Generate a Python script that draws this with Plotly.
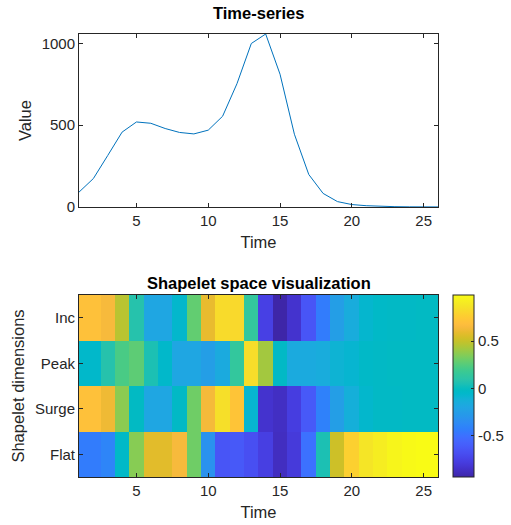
import plotly.graph_objects as go

# ---- data ----
time = list(range(1, 27))
value = [91, 174, 315, 458, 520, 512, 480, 456, 447, 470, 555, 754, 1000, 1058,
         812, 445, 199, 83, 33, 15, 8, 4, 2, 1, 1, 0.5]

dims = ["Inc", "Peak", "Surge", "Flat"]
inc = [0.70, 0.70, 0.65, 0.47, 0.08, -0.20, -0.20, -0.06, 0.28, 0.60, 0.83, 0.82, 0.14,
       -0.76, -0.94, -0.84, -0.65, -0.45, -0.25, -0.15, -0.07, -0.04, -0.03, -0.03, -0.02, -0.02]
peak = [-0.05, -0.05, 0.08, 0.22, 0.27, 0.05, -0.05, -0.20, -0.20, -0.25, -0.17, 0.14, 0.84,
        0.42, -0.03, -0.17, -0.17, -0.15, -0.10, -0.08, -0.04, -0.03, -0.02, -0.02, -0.02, -0.02]
surge = [0.70, 0.70, 0.62, 0.37, -0.02, -0.20, -0.20, -0.03, 0.31, 0.64, 0.85, 0.72, -0.08,
         -0.84, -0.87, -0.78, -0.63, -0.42, -0.25, -0.13, -0.06, -0.03, -0.03, -0.02, -0.02, -0.02]
flat = [-0.45, -0.45, -0.40, -0.04, 0.36, 0.58, 0.58, 0.65, 0.31, -0.32, -0.65, -0.63, -0.68,
        -0.77, -0.88, -0.80, -0.50, 0.05, 0.52, 0.78, 0.88, 0.92, 0.96, 0.98, 0.99, 0.99]
cbar_ticks = [-0.5, 0, 0.5]
cbar_labels = ["-0.5", "0", "0.5"]
x_ticks = [5, 10, 15, 20, 25]
y_ticks = [0, 500, 1000]

# ---- parula colormap ----
parula = [
    (0.2422, 0.1504, 0.6603), (0.2504, 0.1650, 0.7076), (0.2578, 0.1818, 0.7511),
    (0.2647, 0.1978, 0.7952), (0.2706, 0.2147, 0.8364), (0.2751, 0.2342, 0.8710),
    (0.2783, 0.2559, 0.8991), (0.2803, 0.2782, 0.9221), (0.2813, 0.3006, 0.9414),
    (0.2810, 0.3228, 0.9579), (0.2795, 0.3447, 0.9717), (0.2760, 0.3667, 0.9829),
    (0.2699, 0.3892, 0.9906), (0.2602, 0.4123, 0.9952), (0.2440, 0.4358, 0.9988),
    (0.2206, 0.4603, 0.9973), (0.1963, 0.4847, 0.9892), (0.1834, 0.5074, 0.9798),
    (0.1786, 0.5289, 0.9682), (0.1764, 0.5499, 0.9520), (0.1687, 0.5703, 0.9359),
    (0.1540, 0.5902, 0.9218), (0.1460, 0.6091, 0.9079), (0.1380, 0.6276, 0.8973),
    (0.1248, 0.6459, 0.8883), (0.1113, 0.6635, 0.8763), (0.0952, 0.6798, 0.8598),
    (0.0689, 0.6948, 0.8394), (0.0297, 0.7082, 0.8163), (0.0036, 0.7203, 0.7917),
    (0.0067, 0.7312, 0.7660), (0.0433, 0.7411, 0.7394), (0.0964, 0.7500, 0.7120),
    (0.1408, 0.7584, 0.6842), (0.1717, 0.7670, 0.6554), (0.1938, 0.7758, 0.6251),
    (0.2161, 0.7843, 0.5923), (0.2470, 0.7918, 0.5567), (0.2906, 0.7973, 0.5188),
    (0.3406, 0.8008, 0.4789), (0.3909, 0.8029, 0.4354), (0.4456, 0.8024, 0.3909),
    (0.5044, 0.7993, 0.3480), (0.5616, 0.7942, 0.3045), (0.6174, 0.7876, 0.2612),
    (0.6720, 0.7793, 0.2227), (0.7242, 0.7698, 0.1910), (0.7738, 0.7598, 0.1646),
    (0.8203, 0.7498, 0.1535), (0.8634, 0.7406, 0.1596), (0.9035, 0.7330, 0.1774),
    (0.9393, 0.7288, 0.2100), (0.9728, 0.7298, 0.2394), (0.9956, 0.7434, 0.2371),
    (0.9970, 0.7659, 0.2199), (0.9952, 0.7893, 0.2028), (0.9892, 0.8136, 0.1885),
    (0.9786, 0.8386, 0.1766), (0.9676, 0.8639, 0.1643), (0.9610, 0.8890, 0.1537),
    (0.9597, 0.9135, 0.1423), (0.9628, 0.9373, 0.1265), (0.9691, 0.9606, 0.1064),
    (0.9769, 0.9839, 0.0805)]
n = len(parula)
colorscale = [[i / (n - 1), "rgb(%d,%d,%d)" % tuple(round(c * 255) for c in rgb)]
              for i, rgb in enumerate(parula)]

# ---- layout geometry (pixels) ----
W, H = 511, 525
AX_L, AX_R = 79, 438
TOP_T, TOP_B = 34, 207
BOT_T, BOT_B = 295, 477
ML, MR, MT, MB = AX_L, W - AX_R, TOP_T, H - BOT_B
PW, PH = AX_R - AX_L, BOT_B - TOP_T


def py(pix):  # pixel row (from top) -> paper y
    return (BOT_B - pix) / PH


def px(pix):  # pixel column -> paper x
    return (pix - AX_L) / PW


FONT = "Liberation Sans, Arial, sans-serif"
AXC = "#262626"
TICK_FS = 15
LAB_FS = 16.5

fig = go.Figure()
fig.add_trace(go.Scatter(x=time, y=value, mode="lines",
                         line=dict(color="rgb(0,114,189)", width=1),
                         xaxis="x", yaxis="y", showlegend=False))
fig.add_trace(go.Heatmap(x=time, y=dims, z=[inc, peak, surge, flat],
                         colorscale=colorscale, xaxis="x2", yaxis="y2",
                         colorbar=dict(x=px(453), xanchor="left", xpad=0,
                                       y=0, yanchor="bottom", ypad=0,
                                       len=(BOT_B - BOT_T) / PH, lenmode="fraction",
                                       thickness=21, thicknessmode="pixels",
                                       outlinewidth=1, outlinecolor=AXC,
                                       tickvals=cbar_ticks, ticktext=cbar_labels,
                                       ticks="inside", ticklen=3, tickcolor=AXC,
                                       tickfont=dict(size=TICK_FS, color=AXC, family=FONT))))

axis_common = dict(showline=True, linecolor=AXC, linewidth=1, mirror="ticks",
                   ticks="inside", ticklen=4, tickcolor=AXC, showgrid=False,
                   zeroline=False, automargin=False,
                   tickfont=dict(size=TICK_FS, color=AXC, family=FONT))

fig.update_layout(
    width=W, height=H, margin=dict(l=ML, r=MR, t=MT, b=MB, autoexpand=False),
    paper_bgcolor="white", plot_bgcolor="white",
    font=dict(family=FONT, color=AXC),
    xaxis=dict(domain=[0, 1], anchor="y", range=[1, 26], tickvals=x_ticks,
               title=dict(text="Time", font=dict(size=LAB_FS), standoff=8),
               **axis_common),
    yaxis=dict(domain=[py(TOP_B), 1], anchor="x", range=[0, max(value)],
               tickvals=y_ticks,
               title=dict(text="Value", font=dict(size=LAB_FS), standoff=5),
               **axis_common),
    xaxis2=dict(domain=[0, 1], anchor="y2", range=[1, 26], tickvals=x_ticks,
                title=dict(text="Time", font=dict(size=LAB_FS), standoff=8),
                **axis_common),
    yaxis2=dict(domain=[0, py(BOT_T)], anchor="x2",
                autorange="reversed", type="category",
                title=dict(text="Shapelet dimensions", font=dict(size=LAB_FS), standoff=6),
                **axis_common),
    annotations=[
        dict(text="<b>Time-series</b>", x=0.5, y=py(13),
             xref="paper", yref="paper", showarrow=False, xanchor="center", yanchor="middle",
             font=dict(size=LAB_FS, color="black", family=FONT)),
        dict(text="<b>Shapelet space visualization</b>", x=0.5, y=py(283),
             xref="paper", yref="paper", showarrow=False,
             xanchor="center", yanchor="middle",
             font=dict(size=LAB_FS, color="black", family=FONT)),
    ],
)

fig.write_html("out.html", config={"displayModeBar": False},
               post_script="document.body.style.margin='0px';document.body.style.overflow='hidden';")
